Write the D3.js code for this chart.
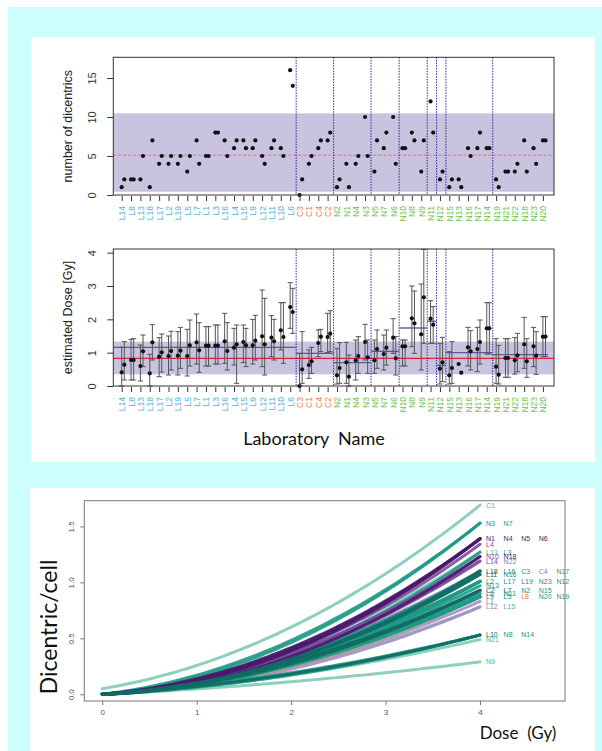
<!DOCTYPE html>
<html><head><meta charset="utf-8">
<script src="https://cdn.jsdelivr.net/npm/d3@7"></script>
<style>body{margin:0;background:#fff}svg{display:block}</style>
</head><body><svg id="c" width="602" height="751"></svg>
<script>
// ---------- DATA ----------
const labs = ["L14","L8","L13","L18","L17","L2","L19","L5","L7","L1","L3","L16","L4","L15","L9","L12","L11","L10","L6",
  "C3","C1","C4","C2",
  "N2","N1","N4","N3","N5","N7","N6","N10","N8","N9","N11","N12","N15","N13","N16","N17","N14","N19","N21","N22","N18","N23","N20"];
const dic1 = [1,2,2,1,4,4,4,3,7,5,8,7,6,7,6,5,6,6,16, 0,4,6,7, 1,4,4,10,3,6,10,6,8,3,12,2,1,2,6,6,6,2,3,3,7,6,7];
const dic2 = [2,2,5,7,5,5,5,5,4,5,8,5,7,6,7,4,7,5,14, 2,5,7,8, 2,1,5,5,7,8,4,6,7,7,8,3,2,1,5,8,6,1,3,4,3,4,7];
const dose1 = [0.41,0.78,0.60,0.38,0.88,0.90,0.91,0.90,1.31,1.21,1.21,1.34,1.15,1.32,1.22,1.49,1.45,1.67,2.37,
  0.00,0.63,1.29,1.47,
  0.32,0.71,0.77,1.32,0.77,0.96,1.45,1.19,2.03,1.55,2.02,0.52,0.32,0.66,1.16,1.11,1.73,0.58,0.84,0.77,1.25,1.19,1.48];
const lo1 = [0.00,0.18,0.15,0.00,0.28,0.33,0.33,0.30,0.66,0.60,0.66,0.68,0.63,0.70,0.66,0.58,0.88,1.08,1.73,
  0.00,0.23,0.88,1.00,
  0.06,0.08,0.18,0.78,0.38,0.48,0.98,0.60,1.18,0.48,1.28,0.06,0.06,null,0.60,0.43,0.96,0.08,0.26,0.36,0.53,0.58,0.88];
const hi1 = [1.16,1.40,1.23,0.95,1.45,1.50,1.63,1.70,2.16,1.78,1.83,2.18,1.73,1.83,2.00,2.88,2.11,2.50,3.10,
  0.98,1.08,1.68,2.18,
  1.13,1.31,1.38,1.85,1.38,1.53,2.02,1.38,3.00,3.06,2.56,1.28,1.03,null,1.76,1.76,2.50,1.42,1.42,1.45,2.06,1.76,2.08];
const dose2 = [0.64,0.78,1.04,1.31,1.01,1.05,1.06,1.22,1.07,1.21,1.21,1.05,1.25,1.22,1.36,1.25,1.34,1.47,2.22,
  0.50,0.74,1.48,1.57,
  0.54,0.28,0.90,0.86,1.11,1.15,0.83,1.19,1.88,2.66,1.84,0.71,0.54,0.40,1.04,1.32,1.73,0.34,0.84,0.92,0.74,0.91,1.48];
const lo2 = [0.18,0.18,0.58,0.78,0.42,0.48,0.53,0.60,0.41,0.60,0.66,0.48,0.08,0.58,0.78,0.33,0.78,0.68,1.58,
  0.08,0.38,1.03,1.03,
  0.08,0.00,0.38,0.38,0.53,0.63,0.33,0.60,0.98,1.28,1.28,0.13,0.08,null,0.48,0.66,0.96,0.06,0.26,0.43,0.26,0.35,0.88];
const hi2 = [1.33,1.42,1.53,1.84,1.56,1.64,1.76,1.98,1.90,1.78,1.83,1.90,1.83,1.73,2.12,2.63,2.00,2.50,2.93,
  1.63,1.16,1.70,2.26,
  1.30,0.93,1.48,1.38,1.68,1.68,1.48,1.38,2.85,4.10,2.38,1.46,1.33,null,1.66,1.98,2.50,1.22,1.42,1.58,1.42,1.63,2.08];
const separatorsAfter = ["L6","C2","N3","N6","N9","N11","N12","N14"];
const groupMeanDose = [1.16,0.98,0.70,1.04,1.74,1.94,0.62,1.00,0.94];
const dicBand = [0.42,10.47], dicRef = 5.1;
const doseBand = [0.35,1.33], doseRef = 0.83;
const dicTicks = [0,5,10,15], doseTicks = [0,1,2,3,4];

// dose-response curves  y = c + alpha*D + beta*D^2
const curveLabs  = ["C1","N3","N7","N1","N4","N5","N6","L4","L13","L3","N10","N18","L14","N22","L18","L16","C3","C4","N17","L11","N16","L2","L17","L19","N23","N12","N13","C2","L7","N2","N15","L6","N11","L9","L5","L8","N20","N19","L1","L12","L15","L10","N8","N14","N21","N9"];
const curveC     = [0.05,0,0,0,0,0,0,0,0,0,0,0,0,0,0,0,0,0,0,0,0,0,0,0,0,0,0,0,0,0,0,0,0,0,0,0,0,0,0,0,0,0,0,0,0,0];
const curveAlpha = [0.14,0.08,0.10,0.06,0.05,0.07,0.04,0.05,0.08,0.04,0.06,0.03,0.05,0.07,0.04,0.06,0.03,0.08,0.05,0.04,0.06,0.05,0.03,0.07,0.04,0.06,0.05,0.04,0.06,0.03,0.05,0.02,0.05,0.04,0.06,0.03,0.05,0.07,0.04,0.03,0.05,0.05,0.06,0.04,0.05,0.04];
const curveBeta  = [0.0675,0.0756,0.0706,0.0719,0.0744,0.0694,0.0769,0.0713,0.0594,0.0694,0.0619,0.0694,0.0619,0.0569,0.0588,0.0538,0.0613,0.0488,0.0563,0.0569,0.0519,0.0506,0.0556,0.0456,0.0531,0.0481,0.0481,0.0481,0.0431,0.0506,0.0456,0.0513,0.0438,0.0444,0.0394,0.0469,0.0419,0.0369,0.0419,0.0413,0.0363,0.0206,0.0181,0.0231,0.0181,0.0081];
const curveGroup = ["lt","tl","tl","dp","dp","dp","dp","mp","lt","tl","mp","dp","mp","lp","dt","tl","tl","lp","tl","dt","tl","tl","tl","tl","tl","tl","tl","dt","dt","tl","tl","lp","tl","tl","tl","ol","tl","tl","lp","lp","lt","dt","tl","tl","lt","lt"];
const doseTicksB = [0,1,2,3,4], yTicksB = [0,0.5,1.0,1.5];

// ---------- DRAW ----------
const svg = d3.select("#c");
svg.append("rect").attr("x",8).attr("y",7).attr("width",594).attr("height",744).attr("fill","#ccfefe");
svg.append("rect").attr("x",31).attr("y",37).attr("width",564).attr("height",425).attr("fill","#fff");
svg.append("rect").attr("x",30).attr("y",488).attr("width",565).attr("height",263).attr("fill","#fff");

const R = "'Liberation Sans', Arial, sans-serif";
const labColor = l => l[0]==="L" ? "#4fb0d8" : l[0]==="C" ? "#ef7e4c" : "#6cbf4c";
const fx0 = 113.3, fx1 = 554;
const xT = d3.scalePoint().domain(labs).range([121.7, 542.9]);
const off = 2.6;
const step = xT.step();
const sepX = separatorsAfter.map(l => xT(l) + step/2 + off/2);

function panel(yScale, top, bottom, band, ref, refDash, ticks, title, drawMarks, means) {
  const g = svg.append("g");
  g.append("rect").attr("x",fx0).attr("width",fx1-fx0)
    .attr("y",yScale(band[1])).attr("height",yScale(band[0])-yScale(band[1]))
    .attr("fill","#c8c3de");
  g.append("line").attr("x1",fx0).attr("x2",fx1).attr("y1",yScale(ref)).attr("y2",yScale(ref))
    .attr("stroke", refDash ? "#c86a78" : "#e8203c").attr("stroke-width", refDash ? 0.8 : 1.3)
    .attr("stroke-dasharray", refDash ? "3,2" : null);
  sepX.forEach(sx => g.append("line").attr("x1",sx).attr("x2",sx).attr("y1",top).attr("y2",bottom)
    .attr("stroke","#2e2e9a").attr("stroke-width",1).attr("stroke-dasharray","1.5,1.2"));
  if (means) {
    const bounds = [fx0, ...sepX, fx1 - 6];
    means.forEach((m,i) => g.append("line").attr("x1",bounds[i]).attr("x2",bounds[i+1])
      .attr("y1",yScale(m)).attr("y2",yScale(m)).attr("stroke","#5a5a9c").attr("stroke-width",1.4));
  }
  drawMarks(g);
  g.append("rect").attr("x",fx0).attr("y",top).attr("width",fx1-fx0).attr("height",bottom-top)
    .attr("fill","none").attr("stroke","#333").attr("stroke-width",1);
  const ya = g.append("g").attr("transform",`translate(${fx0},0)`)
    .call(d3.axisLeft(yScale).tickValues(ticks).tickSize(6).tickFormat(d3.format("d")));
  ya.select(".domain").remove();
  ya.selectAll("line").attr("stroke","#333");
  ya.selectAll("text").attr("x",0).attr("dy",null).attr("text-anchor","middle")
    .attr("transform","translate(-17.5,0) rotate(-90)").style("font-family",R).style("font-size","11px").attr("fill","#333");
  const xa = g.append("g").attr("transform",`translate(0,${bottom})`)
    .call(d3.axisBottom(xT).tickSize(6).tickSizeOuter(0));
  xa.select(".domain").remove();
  xa.selectAll("line").attr("stroke","#333").attr("y1",1);
  xa.selectAll("text").attr("y",0).attr("x",-11).attr("dy","0.35em").attr("text-anchor","end")
    .attr("transform","rotate(-90)").style("font-family",R).style("font-size","8.5px")
    .attr("fill", d => labColor(d));
  g.append("text").attr("transform",`translate(72,${(top+bottom)/2}) rotate(-90)`)
    .attr("text-anchor","middle").style("font-family",R).style("font-size","12.5px").attr("fill","#222").text(title);
}

const yDic = d3.scaleLinear().domain([0,17.65]).range([195,57.3]);
panel(yDic, 57.3, 195, dicBand, dicRef, true, dicTicks, "number of dicentrics", g => {
  labs.forEach((l,i) => {
    g.append("circle").attr("cx",xT(l)).attr("cy",yDic(dic1[i])).attr("r",2.1).attr("fill","#111");
    g.append("circle").attr("cx",xT(l)+off).attr("cy",yDic(dic2[i])).attr("r",2.1).attr("fill","#111");
  });
});

const yDose = d3.scaleLinear().domain([0,4.11]).range([386,249]);
panel(yDose, 249, 386, doseBand, doseRef, false, doseTicks, "estimated Dose [Gy]", g => {
  const bar = (x, lo, hi) => {
    if (lo == null) return;
    const y1 = yDose(Math.min(hi,4.11)), y0 = yDose(lo);
    g.append("line").attr("x1",x).attr("x2",x).attr("y1",y0).attr("y2",y1).attr("stroke","#555").attr("stroke-width",1);
    g.append("line").attr("x1",x-2.6).attr("x2",x+2.6).attr("y1",y0).attr("y2",y0).attr("stroke","#555").attr("stroke-width",1);
    g.append("line").attr("x1",x-2.6).attr("x2",x+2.6).attr("y1",y1).attr("y2",y1).attr("stroke","#555").attr("stroke-width",1);
  };
  labs.forEach((l,i) => {
    bar(xT(l), lo1[i], hi1[i]);
    bar(xT(l)+off, lo2[i], hi2[i]);
  });
  labs.forEach((l,i) => {
    g.append("circle").attr("cx",xT(l)).attr("cy",yDose(dose1[i])).attr("r",2.1).attr("fill","#111");
    g.append("circle").attr("cx",xT(l)+off).attr("cy",yDose(dose2[i])).attr("r",2.1).attr("fill","#111");
  });
}, groupMeanDose);

svg.append("text").attr("x",314).attr("y",445).attr("text-anchor","middle")
  .style("font-family","Lato, sans-serif").style("font-size","18px").attr("fill","#111")
  .attr("xml:space","preserve").text("Laboratory  Name");

// ---------- bottom chart ----------
const xB = d3.scaleLinear().domain([-0.19,4.9]).range([84.3,565]);
const yB = d3.scaleLinear().domain([-0.06,1.73]).range([701,500.7]);
const lineCol = {lt:"#7fcbb6", tl:"#1f9a86", dt:"#0f6a64", dp:"#4a1a6e", mp:"#7b4b9a", lp:"#a88cc4", ol:"#b5a46c"};
const textCol = {lt:"#4fb49c", tl:"#1a9480", dt:"#126a64", dp:"#4a1a6e", mp:"#7a4a98", lp:"#9677b3", ol:"#e8743b"};
const order = ["lt","lp","ol","tl","mp","dp","dt"];
const gB = svg.append("g");
const doses = d3.range(0, 4.0001, 0.05);
const line = d3.line().x(d => xB(d[0])).y(d => yB(d[1]));
const idx = curveLabs.map((_,i) => i).sort((a,b) => order.indexOf(curveGroup[a]) - order.indexOf(curveGroup[b]) || a - b);
idx.forEach(i => {
  const pts = doses.map(D => [D, curveC[i] + curveAlpha[i]*D + curveBeta[i]*D*D]);
  gB.append("path").attr("d", line(pts)).attr("fill","none")
    .attr("stroke", lineCol[curveGroup[i]]).attr("stroke-width",3).attr("stroke-opacity",0.9)
    .attr("stroke-linecap","round");
});
const cols = [];
curveLabs.forEach((l,i) => {
  const yv = yB(curveC[i] + curveAlpha[i]*4 + curveBeta[i]*16);
  let c = 0;
  while (cols[c] && cols[c].some(v => Math.abs(v - yv) < 3.0)) c++;
  (cols[c] = cols[c] || []).push(yv);
  gB.append("text").attr("x", 486 + c*17.6).attr("y", yv).attr("dy","0.35em")
    .style("font-family",R).style("font-size","7px").attr("fill", textCol[curveGroup[i]]).text(l);
});
gB.append("rect").attr("x",84.3).attr("y",500.7).attr("width",565-84.3).attr("height",701-500.7)
  .attr("fill","none").attr("stroke","#777").attr("stroke-width",1);
const xaB = gB.append("g").attr("transform","translate(0,701)")
  .call(d3.axisBottom(xB).tickValues(doseTicksB).tickSize(4).tickFormat(d3.format("d")));
xaB.select(".domain").remove();
xaB.selectAll("line").attr("stroke","#777");
xaB.selectAll("text").attr("y",8).style("font-family",R).style("font-size","8px").attr("fill","#555");
const yaB = gB.append("g").attr("transform","translate(84.3,0)")
  .call(d3.axisLeft(yB).tickValues(yTicksB).tickSize(4).tickFormat(d3.format(".1f")));
yaB.select(".domain").remove();
yaB.selectAll("line").attr("stroke","#777");
yaB.selectAll("text").attr("x",0).attr("dy",null).attr("text-anchor","middle")
  .attr("transform","translate(-10,0) rotate(-90)").style("font-family",R).style("font-size","8px").attr("fill","#555");
svg.append("text").attr("transform","translate(57,627) rotate(-90)").attr("text-anchor","middle")
  .style("font-family","Lato, sans-serif").style("font-size","23px").attr("fill","#111").text("Dicentric/cell");
svg.append("text").attr("x",518).attr("y",739).attr("text-anchor","middle").attr("xml:space","preserve")
  .style("font-family","Lato, sans-serif").style("font-size","17px").attr("fill","#111").text("Dose  (Gy)");
</script></body></html>
